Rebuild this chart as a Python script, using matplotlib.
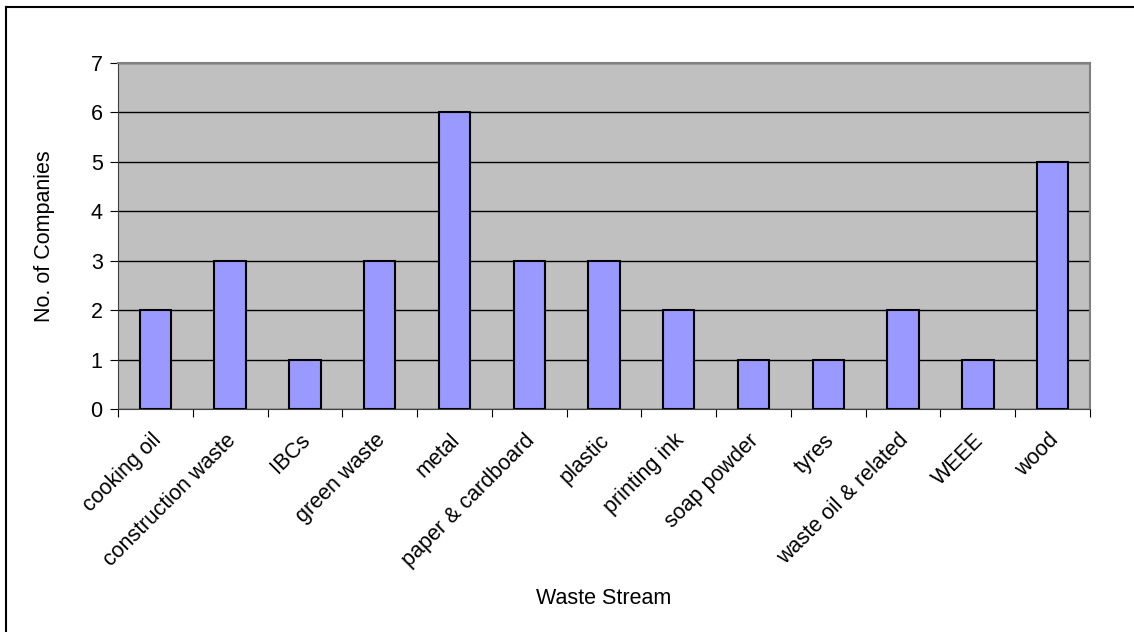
import numpy as np
import matplotlib
matplotlib.use('Agg')
import matplotlib.pyplot as plt
import matplotlib.transforms as mtransforms
from matplotlib.lines import Line2D

categories = ['cooking oil', 'construction waste', 'IBCs', 'green waste', 'metal',
              'paper & cardboard', 'plastic', 'printing ink', 'soap powder', 'tyres',
              'waste oil & related', 'WEEE', 'wood']
companies = [2, 3, 1, 3, 6, 3, 3, 2, 1, 1, 2, 1, 5]
yticks = [0, 1, 2, 3, 4, 5, 6, 7]

plt.rcParams['font.family'] = ['Liberation Sans', 'DejaVu Sans']
fs = 15.5

fig = plt.figure(figsize=(11.34, 6.32), dpi=100)
ax = fig.add_axes([118 / 1134, 1 - 409 / 632, 972 / 1134, 346 / 632])

# chart border (only left and top edges are visible in the crop)
bx, by = 5.5 / 1134, 1 - 7 / 632
fig.lines.append(Line2D([bx, bx], [0, by], transform=fig.transFigure, color='black', linewidth=1.5))
fig.lines.append(Line2D([bx, 1], [by, by], transform=fig.transFigure, color='black', linewidth=1.5))

x = np.arange(len(categories))
ax.set_facecolor('#c0c0c0')
ax.set_axisbelow(True)
ax.yaxis.grid(True, color='black', linewidth=1)
ax.bar(x, companies, width=0.42, color='#9999ff', edgecolor='black', linewidth=1.5, zorder=3)

ax.set_xlim(-0.5, len(categories) - 0.5)
ax.set_ylim(0, 7)
ax.set_yticks(yticks)
ax.tick_params(axis='y', labelsize=fs, length=6, color='black', direction='out', pad=5)

# ticks at category boundaries, labels centred
ax.set_xticks(np.arange(-0.5, len(categories), 1.0))
ax.set_xticklabels([])
ax.set_xticks(x, minor=True)
ax.set_xticklabels(categories, minor=True, rotation=45, ha='right', rotation_mode='anchor',
                   fontsize=fs)
ax.tick_params(axis='x', which='major', length=6, color='black')
ax.tick_params(axis='x', which='minor', length=0, pad=15)
shift = mtransforms.ScaledTranslation(-5 / 100, 0, fig.dpi_scale_trans)
for lab in ax.get_xticklabels(minor=True):
    lab.set_transform(lab.get_transform() + shift)

for s in ['top', 'right']:
    ax.spines[s].set_color('#808080')
    ax.spines[s].set_linewidth(1.5)
ax.spines['left'].set_color('#404040')
ax.spines['bottom'].set_color('#404040')

ax.set_ylabel('No. of Companies', fontsize=fs)
ax.yaxis.set_label_coords(-63 / 972, 0.5)
ax.set_xlabel('Waste Stream', fontsize=fs)
ax.xaxis.set_label_coords(0.5, -179 / 346)

fig.savefig('out.png', dpi=100)
